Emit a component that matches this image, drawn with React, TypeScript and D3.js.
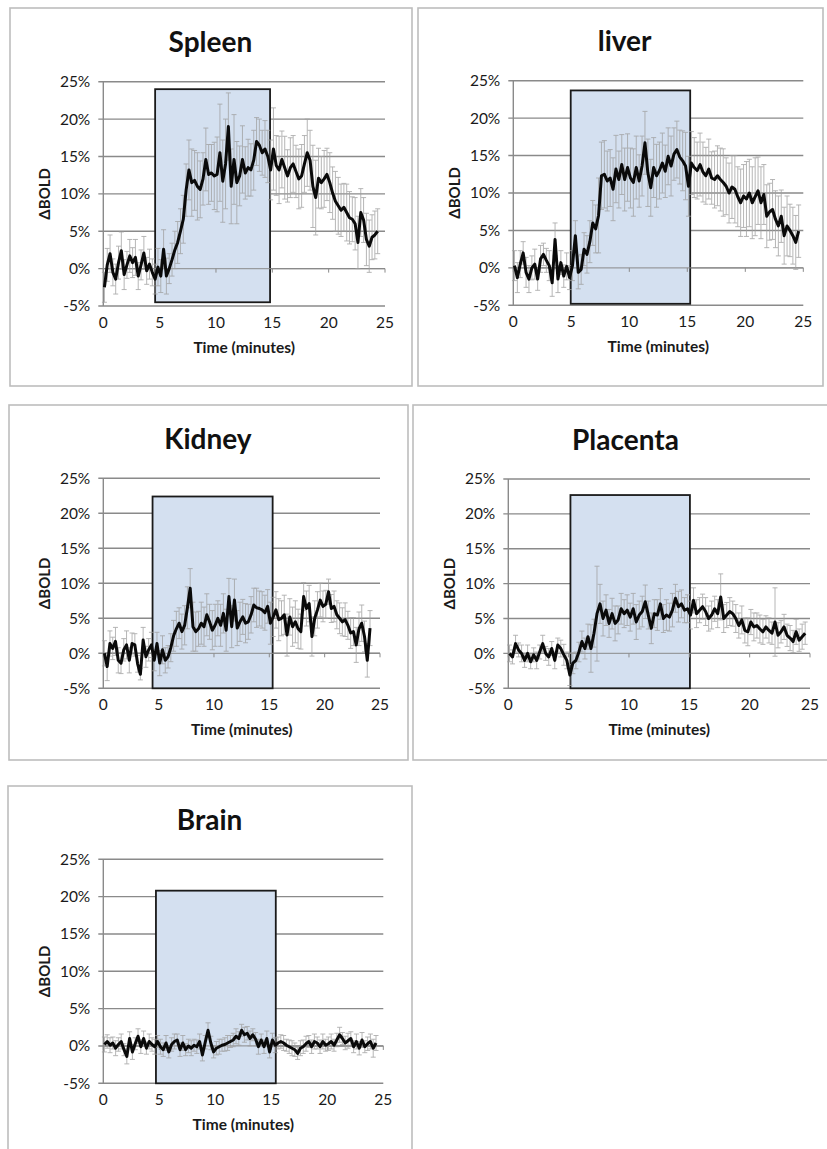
import React from 'react';
import * as d3 from 'd3';

// ---------- DATA ----------
const TIME = [0.1,0.35,0.6,0.85,1.1,1.35,1.6,1.85,2.1,2.35,2.6,2.85,3.1,3.35,3.6,3.85,4.1,4.35,4.6,4.85,5.1,5.35,5.6,5.85,6.1,6.35,6.6,6.85,7.1,7.35,7.6,7.85,8.1,8.35,8.6,8.85,9.1,9.35,9.6,9.85,10.1,10.35,10.6,10.85,11.1,11.35,11.6,11.85,12.1,12.35,12.6,12.85,13.1,13.35,13.6,13.85,14.1,14.35,14.6,14.85,15.1,15.35,15.6,15.85,16.1,16.35,16.6,16.85,17.1,17.35,17.6,17.85,18.1,18.35,18.6,18.85,19.1,19.35,19.6,19.85,20.1,20.35,20.6,20.85,21.1,21.35,21.6,21.85,22.1,22.35,22.6,22.85,23.1,23.35,23.6,23.85,24.1,24.35,24.6];

const SPLEEN = [
  -2.5,0.5,2.0,-0.5,-1.4,0.8,2.4,-0.8,0.5,1.7,
  0.8,1.5,-1.0,0.5,2.1,-0.3,0.6,-0.5,-1.4,0.2,
  -1.0,2.6,-1.0,0.0,1.2,2.5,3.5,5.0,6.6,10.5,
  13.2,11.5,11.8,11.0,10.6,12.0,14.6,12.6,12.8,12.4,
  12.6,15.5,11.7,14.0,19.0,11.0,14.6,11.5,12.4,14.6,
  12.8,13.5,13.2,14.5,17.0,16.5,15.5,16.0,15.0,13.2,
  16.0,13.8,13.2,14.6,13.5,12.4,13.5,14.0,13.0,12.0,
  12.4,14.0,15.5,14.5,11.0,9.5,12.1,11.5,12.0,12.6,
  11.5,10.1,9.0,8.4,7.8,8.2,7.5,6.8,6.6,6.0,
  3.5,7.5,6.5,3.9,3.0,4.2,4.5,5.0];
const SPLEEN_ERR = [
  2.0,2.2,2.5,1.8,2.0,2.2,2.5,2.0,1.8,2.2,
  2.0,2.4,1.8,2.0,2.2,1.8,2.0,1.8,2.0,2.5,
  2.2,2.6,2.4,2.0,2.2,2.5,2.8,3.0,3.2,3.5,
  4.0,4.5,4.0,4.5,3.8,3.5,4.2,4.0,3.8,4.5,
  5.0,6.5,5.5,6.0,4.5,5.0,6.0,5.5,4.0,4.5,
  3.5,3.8,3.5,4.0,3.2,3.5,3.0,3.8,3.5,4.0,
  5.5,4.0,4.5,3.8,4.2,3.5,4.0,3.8,3.5,4.0,
  4.2,3.8,4.5,4.0,5.5,5.0,4.0,3.5,3.8,3.5,
  4.0,3.5,4.0,3.8,3.5,3.2,3.8,3.5,3.0,3.5,
  3.5,3.2,3.0,3.5,3.5,3.0,3.2,3.0];

const LIVER = [
  0.3,-1.3,0.5,2.0,-0.6,-1.5,0.0,0.5,-1.5,1.2,
  1.8,1.0,0.3,-2.0,3.8,-1.5,0.7,-1.1,0.2,-1.3,
  0.3,4.3,-0.6,-0.2,2.5,1.8,3.5,6.0,5.2,7.0,
  12.3,12.5,11.6,12.0,10.5,13.2,11.8,13.8,11.8,13.4,
  12.0,11.4,13.4,11.6,13.6,16.7,12.7,10.7,13.4,12.3,
  13.0,14.0,12.9,14.9,13.6,15.2,15.8,14.8,14.3,13.6,
  10.9,14.0,13.4,13.0,13.8,12.8,12.3,13.2,12.0,11.8,
  12.3,11.8,11.4,10.9,10.0,10.8,10.5,9.5,8.7,9.6,
  9.2,10.0,8.7,9.5,10.3,8.7,9.8,6.9,7.5,7.8,
  6.5,5.6,6.9,4.3,5.6,5.0,4.3,3.4,4.9];
const LIVER_ERR = [
  2.0,2.0,1.8,1.5,2.0,1.8,1.6,2.0,1.5,1.8,
  1.5,1.6,2.0,1.8,2.2,1.8,1.6,1.5,1.8,1.6,
  2.0,2.0,2.2,2.0,2.2,2.5,2.8,3.0,3.2,5.0,
  4.5,4.5,4.0,3.8,4.2,4.5,3.8,4.0,4.2,4.5,
  4.0,4.5,4.2,3.5,4.0,4.2,4.5,3.8,4.0,4.2,
  3.8,4.0,3.5,3.8,4.0,3.5,3.8,3.6,4.0,4.5,
  4.0,4.2,4.0,3.8,4.2,4.0,3.8,4.0,3.5,3.8,
  4.0,4.2,4.5,3.8,4.0,4.2,4.5,4.0,4.5,4.2,
  5.0,4.5,4.8,5.2,4.5,4.8,4.0,4.2,3.8,4.0,
  3.8,4.0,3.5,3.8,4.0,3.5,3.8,3.6,3.5];

const KIDNEY = [
  0.0,-1.9,1.4,0.7,1.7,-1.0,-1.4,0.5,1.2,-1.0,
  1.4,1.2,-1.5,-3.0,1.9,-0.5,0.5,1.2,-1.0,1.4,
  -1.4,0.5,-1.0,-0.5,0.8,2.5,3.5,4.3,3.1,4.0,
  6.5,9.3,3.8,3.1,3.5,4.3,3.8,5.5,4.5,3.3,
  4.0,5.0,4.0,5.7,3.3,8.1,3.8,7.6,3.6,4.5,
  5.2,4.3,4.5,5.5,6.9,6.5,6.4,6.2,5.8,6.7,
  4.3,5.2,6.2,4.8,5.0,5.5,2.6,5.2,3.8,4.5,
  3.5,3.1,8.1,6.4,7.1,2.4,5.0,6.2,7.6,6.7,
  7.0,8.8,6.4,6.7,5.5,5.0,4.5,4.8,4.0,2.9,
  3.1,1.2,3.5,4.3,2.4,-1.0,3.6];
const KIDNEY_ERR = [
  1.8,2.0,1.8,1.6,2.0,1.8,1.5,1.6,2.0,1.8,
  1.5,1.6,1.2,0.8,1.8,1.5,1.6,1.8,1.5,1.6,
  1.8,2.0,1.8,1.6,2.0,2.2,2.5,2.2,2.5,2.8,
  3.0,2.8,3.5,2.8,2.5,3.0,2.8,3.0,2.5,2.8,
  3.0,2.5,3.0,2.8,3.0,2.6,3.0,3.0,2.5,2.8,
  2.5,2.8,2.5,2.6,2.4,2.8,2.5,2.6,2.5,2.4,
  3.0,2.8,2.6,3.0,2.5,2.8,3.0,2.6,2.8,3.0,
  2.8,2.5,2.0,2.5,2.6,2.8,2.5,2.6,2.4,2.2,
  2.0,1.8,2.0,2.2,2.0,2.2,2.0,2.4,2.0,2.2,
  2.0,2.5,2.4,2.6,2.2,2.4,2.5];

const PLACENTA = [
  0.0,-0.5,1.4,0.5,0.0,-1.0,0.0,-1.2,-0.2,-1.0,
  0.2,1.4,0.0,-0.5,0.7,-1.0,1.2,0.7,-0.2,-1.0,
  -3.1,-1.4,-1.0,0.2,1.7,0.7,2.4,0.7,2.9,5.7,
  7.1,5.0,6.2,4.3,5.7,4.3,4.8,6.4,5.7,6.2,
  5.2,6.4,4.5,5.5,6.0,7.4,5.5,3.6,5.7,5.5,
  7.1,5.0,5.5,5.2,6.2,7.9,6.7,7.1,6.2,6.4,
  5.5,7.6,5.7,6.2,6.7,6.0,5.0,5.5,6.4,5.7,
  8.1,5.0,5.5,6.0,5.7,5.0,4.0,4.8,3.3,3.1,
  4.5,3.8,4.0,3.5,3.1,3.8,3.3,2.9,4.5,2.6,
  3.1,3.8,2.6,2.2,1.7,3.1,1.9,2.4,2.9];
const PLACENTA_ERR = [
  1.2,1.0,1.2,1.0,1.2,1.0,1.2,1.0,1.0,1.2,
  1.0,1.2,1.0,1.2,1.0,1.2,1.0,1.2,1.5,1.2,
  1.5,1.5,1.2,1.4,1.5,1.5,1.8,3.4,2.0,6.8,
  2.8,2.5,2.2,2.0,2.2,2.5,2.0,2.2,2.0,2.2,
  2.0,2.2,2.5,2.0,2.2,2.4,2.0,2.2,2.0,2.2,
  2.2,2.0,2.2,2.0,2.4,2.0,2.2,2.0,1.8,2.0,
  2.0,1.8,2.0,1.8,1.8,2.0,1.8,2.0,1.8,2.0,
  3.3,2.0,1.8,2.0,1.8,2.0,1.8,2.0,1.8,2.0,
  1.8,2.0,1.8,2.0,1.8,1.6,1.8,1.6,4.9,1.8,
  1.6,1.8,1.6,1.8,1.6,1.8,1.6,1.8,1.6];

const BRAIN = [
  0.2,0.6,0.1,0.4,-0.3,0.2,0.6,-0.5,-1.4,1.0,
  -0.8,0.3,1.3,-0.1,1.0,-0.3,0.6,0.2,-0.1,0.6,
  -0.1,-0.5,0.4,-0.8,0.2,0.6,0.8,-0.5,0.4,-0.5,
  0.0,-0.3,0.1,-0.1,0.6,-1.2,0.5,2.1,0.4,-0.8,
  -0.3,-0.1,0.1,0.2,0.4,0.6,0.8,1.3,1.0,2.1,
  1.5,1.7,1.0,1.5,0.9,-0.1,0.8,-0.1,1.0,-0.8,
  0.8,0.1,0.4,0.6,0.4,0.1,-0.1,-0.3,-0.5,-1.0,
  -0.3,-0.1,0.3,0.6,-0.1,0.6,0.4,-0.1,0.6,0.1,
  0.3,0.6,0.1,0.8,1.5,1.0,0.4,0.7,1.0,-0.1,
  0.6,-0.3,0.8,-0.1,0.3,0.6,-0.3,0.4];
const BRAIN_ERR = [
  1.0,0.9,1.0,0.8,1.0,0.9,1.0,0.8,1.0,0.9,
  1.0,0.8,1.0,0.9,1.0,0.8,1.0,0.9,1.0,0.8,
  1.0,0.9,1.0,0.8,0.9,1.0,0.8,0.9,1.0,0.8,
  0.9,1.0,0.8,0.9,1.0,0.8,0.9,1.0,0.9,0.8,
  0.9,1.0,0.8,0.9,1.0,0.8,0.9,1.0,0.9,0.8,
  1.0,0.9,1.0,0.8,0.9,1.0,0.8,0.9,1.0,0.8,
  0.9,1.0,0.8,0.9,1.0,0.8,0.9,1.0,0.9,0.8,
  1.0,0.9,1.0,0.8,0.9,1.0,0.8,0.9,1.0,0.8,
  0.9,1.0,0.8,0.9,1.0,0.8,0.9,1.0,0.9,0.8,
  1.0,0.9,1.0,0.8,0.9,1.0,1.2,1.0];

const ORGANS = ['Spleen', 'liver', 'Kidney', 'Placenta', 'Brain'];
const SERIES = [SPLEEN, LIVER, KIDNEY, PLACENTA, BRAIN];
const ERRORS = [SPLEEN_ERR, LIVER_ERR, KIDNEY_ERR, PLACENTA_ERR, BRAIN_ERR];
// stimulus window (minutes) and its drawn height (%)
const BOX_START = [4.6, 4.95, 4.45, 5.15, 4.7];
const BOX_END = [14.8, 15.25, 15.3, 15.05, 15.4];
const BOX_TOP = [24, 23.7, 22.4, 22.7, 20.8];
const BOX_BOTTOM = [-4.5, -4.8, -5, -5, -5];

const Y_TICKS = [-5, 0, 5, 10, 15, 20, 25];
const X_TICKS = [0, 5, 10, 15, 20, 25];
const X_LABEL = 'Time (minutes)';
const Y_LABEL = '\u0394BOLD';

// ---------- LAYOUT ----------
type Layout = { frame: number[]; plot: number[] };
const LAYOUTS: Layout[] = [
  { frame: [10, 8, 412, 386], plot: [103.3, 81.7, 385, 306] },
  { frame: [418, 8, 823, 386], plot: [513.3, 80.7, 803.3, 305.3] },
  { frame: [9, 405, 408, 760], plot: [103.3, 478.3, 380, 688.3] },
  { frame: [413, 405, 835, 760], plot: [508.3, 479, 810, 688.3] },
  { frame: [8, 786, 412, 1170], plot: [103.3, 859.3, 383.3, 1083.3] },
];

const FONT = 'Lato, "Open Sans", "DejaVu Sans", sans-serif';
const GRID = '#8a8a8a';

function Panel({ idx }: { idx: number }) {
  const { frame, plot } = LAYOUTS[idx];
  const [px0, py0, px1, py1] = plot;
  const values = SERIES[idx];
  const errs = ERRORS[idx];
  const x = d3.scaleLinear().domain([0, 25]).range([px0, px1]);
  const y = d3.scaleLinear().domain([-5, 25]).range([py1, py0]);
  const line = d3
    .line<number>()
    .x((_, i) => x(TIME[i]))
    .y((d) => y(d));
  const cx = (px0 + px1) / 2;
  const cy = (py0 + py1) / 2;
  return (
    <g>
      <rect
        x={frame[0]}
        y={frame[1]}
        width={frame[2] - frame[0]}
        height={frame[3] - frame[1]}
        fill="#fff"
        stroke="#bdbdbd"
        strokeWidth={1.6}
      />
      <text
        x={cx - 33.7}
        y={py0 - 29.5}
        textAnchor="middle"
        fontFamily={FONT}
        fontWeight="bold"
        fontSize={28}
        fill="#111"
      >
        {ORGANS[idx]}
      </text>
      {Y_TICKS.map((t) => (
        <line key={'g' + t} x1={px0 - 5} x2={x(25)} y1={y(t)} y2={y(t)} stroke={GRID} strokeWidth={1.4} />
      ))}
      <line x1={px0} x2={px0} y1={y(25)} y2={y(-5)} stroke={GRID} strokeWidth={1.4} />
      <rect
        x={x(BOX_START[idx])}
        y={y(BOX_TOP[idx])}
        width={x(BOX_END[idx]) - x(BOX_START[idx])}
        height={y(BOX_BOTTOM[idx]) - y(BOX_TOP[idx])}
        fill="#d4e0f0"
        stroke="#1a1a1a"
        strokeWidth={1.8}
      />
      <line x1={px0} x2={x(25)} y1={y(0)} y2={y(0)} stroke={GRID} strokeWidth={1.2} opacity={0.8} />
      {X_TICKS.map((t) => (
        <line key={'zt' + t} x1={x(t)} x2={x(t)} y1={y(0)} y2={y(0) + 4} stroke={GRID} strokeWidth={1} />
      ))}
      <g stroke="#a0a0a0" strokeWidth={0.9} opacity={0.85}>
        {values.map((v, i) => {
          const xi = x(TIME[i]);
          const e = errs[i];
          return (
            <g key={'e' + i}>
              <line x1={xi} x2={xi} y1={y(v - e)} y2={y(v + e)} />
              <line x1={xi - 2.5} x2={xi + 2.5} y1={y(v - e)} y2={y(v - e)} />
              <line x1={xi - 2.5} x2={xi + 2.5} y1={y(v + e)} y2={y(v + e)} />
            </g>
          );
        })}
      </g>
      <path d={line(values) || ''} fill="none" stroke="#0a0a0a" strokeWidth={3} strokeLinejoin="round" />
      {Y_TICKS.map((t) => (
        <text
          key={'yl' + t}
          x={px0 - 13}
          y={y(t)}
          dy="0.35em"
          textAnchor="end"
          fontFamily={FONT}
          fontSize={15.5}
          fill="#1a1a1a"
        >
          {t + '%'}
        </text>
      ))}
      {X_TICKS.map((t) => (
        <text
          key={'xl' + t}
          x={x(t)}
          y={py1 + 21.5}
          textAnchor="middle"
          fontFamily={FONT}
          fontSize={15.5}
          fill="#1a1a1a"
        >
          {t}
        </text>
      ))}
      <text
        x={cx}
        y={py1 + 47}
        textAnchor="middle"
        fontFamily={FONT}
        fontWeight="bold"
        fontSize={15.5}
        fill="#1a1a1a"
      >
        {X_LABEL}
      </text>
      <text
        transform={`translate(${px0 - 53},${cy}) rotate(-90)`}
        textAnchor="middle"
        fontFamily={FONT}
        fontWeight="bold"
        fontSize={15}
        fill="#1a1a1a"
      >
        {Y_LABEL}
      </text>
    </g>
  );
}

export default function App() {
  return (
    <svg
      width={827}
      height={1149}
      viewBox="0 0 827 1149"
      style={{ position: 'absolute', left: 0, top: 0, background: '#fff' }}
    >
      <rect x={0} y={0} width={827} height={1149} fill="#fff" />
      {ORGANS.map((_, i) => (
        <Panel key={i} idx={i} />
      ))}
    </svg>
  );
}
